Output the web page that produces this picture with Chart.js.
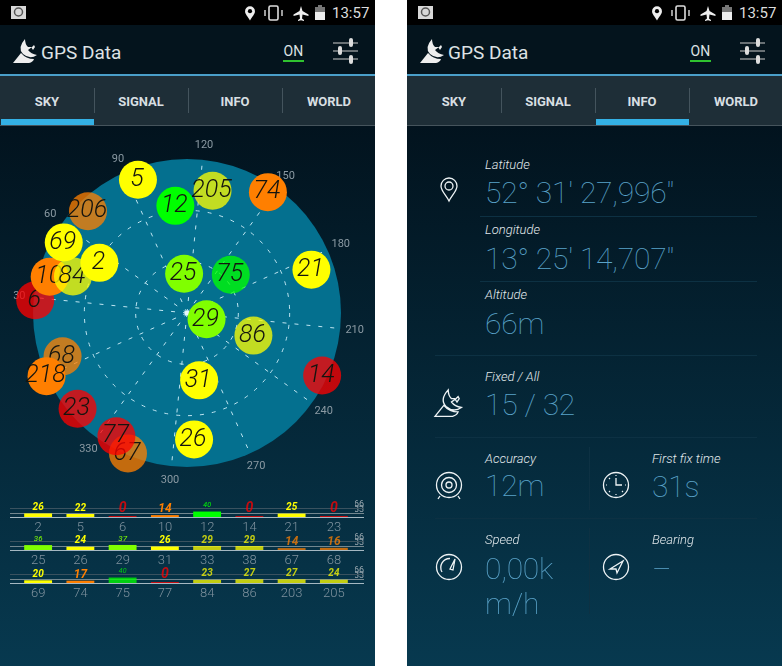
<!DOCTYPE html>
<html>
<head>
<meta charset="utf-8">
<style>
html, body { margin: 0; padding: 0; background: #fff; }
body { position: relative; width: 782px; height: 666px; overflow: hidden; font-family: Roboto, sans-serif; }
.phone { position: absolute; top: 0; width: 375px; height: 666px; overflow: hidden; background: linear-gradient(#02131e 126px, #07394f 666px); }
.abs { position: absolute; white-space: nowrap; line-height: 1; }
.status { position: absolute; left: 0; top: 0; width: 375px; height: 25px; background: #000; }
.appbar { position: absolute; left: 0; top: 25px; width: 375px; height: 49px; background: #04141d; border-bottom: 2px solid #4a9fc9; }
.tabs { position: absolute; left: 0; top: 76px; width: 375px; height: 49px; background: #1e2e37; border-bottom: 1px solid #46545c; }
.tab { position: absolute; top: 19px; width: 94px; text-align: center; font-weight: 700; font-size: 13px; line-height: 1; color: #d8dfe2; }
.sep { position: absolute; top: 12px; width: 1px; height: 25px; background: #44545d; }
.sel { position: absolute; top: 43px; height: 6px; background: #34b1e5; }
.lbl { font-style: italic; font-size: 13px; color: #e2e9ec; font-weight: 300; }
.val { font-size: 30px; font-weight: 100; color: #5aa3c9; letter-spacing: -0.2px; }
.rule { position: absolute; height: 1px; background: #0d3143; }
canvas { position: absolute; }
svg { position: absolute; overflow: visible; }
</style>
<script src="https://cdn.jsdelivr.net/npm/chart.js@4"></script>
</head>
<body>
<div class="phone" id="left" style="left:0"></div>
<div class="phone" id="right" style="left:407px"></div>
<script>
// Sky plot, drawn in this order
const skyIds =       [206, 5, 205, 12, 74, 21, 25, 75, 29, 86, 31, 26, 14, 6, 10, 84, 69, 2, 68, 218, 23, 67, 77];
const skyAzimuth =   [70, 94, 126, 108, 148, 185, 110, 163, 222, 223, 284, 291, 229, 29, 39, 42, 54, 54, 5, 0, 343, 317, 324];
const skyElevation = [7, 7, 17, 27, 5, 13, 67, 56, 78, 49, 50, 16, 3, 1, 7, 20, 7, 31, 13, 0, 5, 1, 7];
const skySnr =       [14, 22, 24, 40, 17, 25, 36, 40, 37, 27, 26, 24, 0, 0, 14, 23, 20, 26, 16, 15, 0, 14, 0];
const usedInFix = [2, 5, 10, 12, 21, 25, 26, 29, 31, 69, 74, 218];
const azimuthTicks = [30, 60, 90, 120, 150, 180, 210, 240, 270, 300, 330];
const spokeAngles = [0, 30, 60, 90, 120, 150, 180, 210, 240, 270, 300, 330];
const ringElevations = [30, 60];

// Signal rows
const rowIds1 = [2, 5, 6, 10, 12, 14, 21, 23];
const rowSnr1 = [26, 22, 0, 14, 40, 0, 25, 0];
const rowIds2 = [25, 26, 29, 31, 33, 38, 67, 68];
const rowSnr2 = [36, 24, 37, 26, 29, 29, 14, 16];
const rowIds3 = [69, 74, 75, 77, 84, 86, 203, 205];
const rowSnr3 = [20, 17, 40, 0, 23, 27, 27, 24];
const snrTicks = [0, 33, 66];

const tabNames = ['SKY', 'SIGNAL', 'INFO', 'WORLD'];

const NORTH_OFFSET = 114.2; // the plot is rotated by the compass
const PX_PER_DEG = 154 / 90;
const SKY_SIZE = 374;
const SKY_RANGE = SKY_SIZE / 2 / PX_PER_DEG;

// satellites outside the fix are see-through, that is what makes them look olive / brown
function snrColor(id, snr) {
    const alpha = usedInFix.includes(id) ? 1 : 0.76;
    let rgb = '0, 255, 0';
    if (snr === 0) rgb = '255, 0, 0';
    else if (snr < 20) rgb = '255, 127, 0';
    else if (snr < 30) rgb = '255, 255, 0';
    else if (snr < 40) rgb = '128, 255, 0';
    return `rgba(${rgb}, ${alpha})`;
}

function polar(az, zenith) {
    const a = (az - NORTH_OFFSET) * Math.PI / 180;
    return { x: zenith * Math.sin(a), y: zenith * Math.cos(a) };
}

// ---- shared phone chrome ----
const pinPath = 'M0 -11 a8 8 0 0 1 8 8 c0 5 -5 9 -8 15 c-3 -6 -8 -10 -8 -15 a8 8 0 0 1 8 -8 z';
const dishPath = 'M25 39 Q17 48 23 54 Q30 60 37 55 Q31 54 28 50 L32 47 L34 45 L35 47 L33 50 L31 47 L28 47 Q25 44 25 39 Z M21 53 L13 63 L29 63 Q33 62 34 59 Q26 59 21 53 Z';

function buildChrome(host, active) {
    let html = `
    <div class="status">
      <svg style="left:0;top:0" width="375" height="25">
        <rect x="11" y="6" width="15" height="13" fill="#d8d8d8"/><circle cx="18.5" cy="12" r="4" fill="none" stroke="#555" stroke-width="1.5"/>
        <g transform="translate(250,13) scale(.62)"><path d="${pinPath}" fill="#eee"/><circle cy="-3" r="3.4" fill="#000"/></g>
        <rect x="269" y="6" width="9" height="14" rx="1.5" fill="none" stroke="#ddd" stroke-width="1.6"/>
        <path d="M265 10v6M282 10v6" stroke="#ddd" stroke-width="1.4"/>
        <path d="M301 6 l1.5 5 l6 3.5 v1.5 l-6 -1.5 l-.5 4 l2 1.5 v1 l-3 -.7 l-3 .7 v-1 l2 -1.5 l-.5 -4 l-6 1.5 v-1.5 l6 -3.5 z" fill="#eee"/>
        <rect x="315" y="7" width="10" height="13" fill="#eee"/><rect x="315" y="7" width="10" height="5" fill="#777"/><rect x="318" y="5" width="4" height="2" fill="#777"/>
      </svg>
      <div class="abs" style="left:332px;top:6px;font-size:15px;color:#dcdcdc">13:57</div>
    </div>
    <div class="appbar"></div>
    <svg style="left:0;top:0" width="375" height="76">
      <path d="${dishPath}" fill="#eee"/>
      <path d="M333 43h25M333 51h25M333 59h25" stroke="#ccc" stroke-width="1.1"/>
      <rect x="349" y="38" width="4" height="9" rx="2" fill="#ddd"/><rect x="338" y="46" width="4" height="9" rx="2" fill="#ddd"/><rect x="349" y="55" width="4" height="9" rx="2" fill="#ddd"/>
      <rect x="283" y="60" width="21" height="2" fill="#2fc22f"/>
    </svg>
    <div class="abs" style="left:41px;top:42.5px;font-size:19px;color:#dde2e4">GPS Data</div>
    <div class="abs" style="left:283.5px;top:43.5px;font-size:14px;color:#dde2e4">ON</div>
    <div class="tabs">`;
    tabNames.forEach((t, i) => {
        html += `<div class="tab" style="left:${i * 94}px">${t}</div>`;
        if (i > 0) html += `<div class="sep" style="left:${i * 94}px"></div>`;
    });
    html += `<div class="sel" style="left:${active * 94 + 1}px;width:93px"></div></div>`;
    host.innerHTML = html;
}

buildChrome(document.getElementById('left'), 0);
buildChrome(document.getElementById('right'), 2);

// ---- info panel ----
const infoItems = [
    ['Latitude', "52° 31' 27,996''", 78, 165, 193],
    ['Longitude', "13° 25' 14,707''", 78, 230, 259],
    ['Altitude', '66m', 78, 295, 324],
    ['Fixed / All', '15 / 32', 78, 377, 405],
    ['Accuracy', '12m', 78, 459, 486],
    ['First fix time', '31s', 245, 459, 487],
    ['Speed', '0,00k', 78, 540, 569],
    ['Bearing', '–', 245, 540, 569],
    ['', 'm/h', 78, 0, 604]
];
const infoRules = [[73, 216, 277], [73, 281, 277], [28, 355, 322], [28, 437, 322], [28, 518, 322]];
const infoRight = document.getElementById('right');
let infoHtml = '';
infoItems.forEach(([label, value, x, ly, vy]) => {
    if (label) infoHtml += `<div class="abs lbl" style="left:${x}px;top:${ly - 7}px">${label}</div>`;
    infoHtml += `<div class="abs val" style="left:${x}px;top:${vy - 15}px">${value}</div>`;
});
infoRules.forEach(([x, y, w]) => {
    infoHtml += `<div class="rule" style="left:${x}px;top:${y}px;width:${w}px"></div>`;
});
infoHtml += `<div class="rule" style="left:182px;top:447px;width:1px;height:63px"></div>`;
infoHtml += `<div class="rule" style="left:182px;top:528px;width:1px;height:86px"></div>`;
infoHtml += `<svg style="left:0;top:0" width="375" height="666" fill="none" stroke="#eef3f5" stroke-width="1.3">
  <g transform="translate(42,189)"><path d="${pinPath}"/><circle cy="-3" r="4"/></g>
  <path transform="translate(13.7,347) scale(1.1)" d="${dishPath}" stroke-width="1.2"/>
  <g transform="translate(42,485)"><circle r="12.5"/><circle r="7.5"/><circle r="3"/><path d="M-9 11 l-2 3 M9 11 l2 3"/></g>
  <g transform="translate(209,485)"><circle r="12.5"/><path d="M0 -7 V0 H6"/><path d="M0 -10v1M0 10v-1M-10 0h1M10 0h-1M-7 -7l1 1M7 7l-1 -1M-7 7l1 -1" stroke-width="1.2"/></g>
  <g transform="translate(42,567)"><circle r="12.5"/><path d="M-7 5 A9 9 0 0 1 1 -8.5"/><path d="M1 2 L6 -8 L4 3 Z"/></g>
  <g transform="translate(209,567)"><circle r="12.5"/><path d="M-6 2 L7 -6 L1 6 L0 2 Z"/></g>
</svg>`;
infoRight.insertAdjacentHTML('beforeend', infoHtml);

// ---- sky plot ----
const leftPhone = document.getElementById('left');
function addCanvas(left, top, w, h) {
    const c = document.createElement('canvas');
    c.width = w;
    c.height = h;
    c.style.cssText = `left:${left}px;top:${top}px;width:${w}px;height:${h}px`;
    leftPhone.appendChild(c);
    return c;
}

const skyBackdrop = {
    id: 'skyBackdrop',
    beforeDatasetsDraw(chart) {
        const { ctx, scales } = chart;
        const cx = scales.x.getPixelForValue(0);
        const cy = scales.y.getPixelForValue(0);
        const unit = scales.x.getPixelForValue(1) - cx;
        ctx.save();
        ctx.beginPath();
        ctx.arc(cx, cy, 90 * unit, 0, Math.PI * 2);
        ctx.fillStyle = '#04708f';
        ctx.fill();

        ctx.strokeStyle = '#bfe6f2';
        ctx.lineWidth = 1;
        ctx.setLineDash([4, 8]);
        ringElevations.forEach(el => {
            ctx.beginPath();
            ctx.arc(cx, cy, (90 - el) * unit, 0, Math.PI * 2);
            ctx.stroke();
        });
        spokeAngles.forEach(az => {
            const p = polar(az, 90);
            ctx.beginPath();
            ctx.moveTo(cx, cy);
            ctx.lineTo(scales.x.getPixelForValue(p.x), scales.y.getPixelForValue(p.y));
            ctx.stroke();
        });
        ctx.setLineDash([]);
        ctx.fillStyle = '#e8f6fa';
        ctx.beginPath();
        ctx.arc(cx, cy, 2.5, 0, Math.PI * 2);
        ctx.fill();

        ctx.fillStyle = '#8b9aa3';
        ctx.font = '11px Roboto';
        ctx.textAlign = 'center';
        ctx.textBaseline = 'middle';
        azimuthTicks.forEach(az => {
            const p = polar(az, 98.5);
            ctx.fillText(String(az), scales.x.getPixelForValue(p.x), scales.y.getPixelForValue(p.y));
        });
        ctx.restore();
    },
    // number goes right after its own circle so later circles can cover it
    afterDatasetDraw(chart, args) {
        const { ctx } = chart;
        const pt = args.meta.data[0];
        ctx.save();
        ctx.fillStyle = '#14140f';
        ctx.font = 'italic 300 25px Roboto';
        ctx.textAlign = 'center';
        ctx.textBaseline = 'middle';
        ctx.fillText(String(skyIds[args.index]), pt.x - 1, pt.y);
        ctx.restore();
    }
};

new Chart(addCanvas(0, 126, SKY_SIZE, SKY_SIZE), {
    type: 'scatter',
    data: {
        datasets: skyIds.map((id, i) => ({
            data: [polar(skyAzimuth[i], 90 - skyElevation[i])],
            backgroundColor: snrColor(id, skySnr[i]),
            borderWidth: 0,
            pointRadius: 19,
            pointHoverRadius: 19,
            order: -i,
            clip: false
        }))
    },
    options: {
        responsive: false,
        animation: false,
        layout: { padding: 0, autoPadding: false },
        plugins: { legend: { display: false }, tooltip: { enabled: false } },
        events: [],
        scales: {
            x: { display: false, min: -SKY_RANGE, max: SKY_RANGE },
            y: { display: false, min: -SKY_RANGE, max: SKY_RANGE }
        }
    },
    plugins: [skyBackdrop]
});

// ---- signal rows ----
function snrFontSize(v) {
    if (v < 14) return 14;
    if (v < 20) return 12;
    if (v < 30) return 10;
    if (v < 40) return 8;
    return 7;
}

const rowDecor = {
    id: 'rowDecor',
    beforeDatasetsDraw(chart) {
        const { ctx, scales } = chart;
        ctx.save();
        snrTicks.forEach(t => {
            const y = Math.round(scales.y.getPixelForValue(t)) + 0.5;
            ctx.strokeStyle = t === 0 ? '#a5b8c2' : (t === 33 ? '#73878f' : '#3a525f');
            ctx.lineWidth = 1;
            ctx.beginPath();
            ctx.moveTo(10, y);
            ctx.lineTo(364, y);
            ctx.stroke();
        });
        ctx.restore();
    },
    afterDatasetsDraw(chart) {
        const { ctx } = chart;
        const ds = chart.data.datasets[0];
        const bars = chart.getDatasetMeta(0).data;
        ctx.save();
        ctx.textAlign = 'center';
        ctx.textBaseline = 'middle';
        ds.data.forEach((v, i) => {
            ctx.font = `italic ${v < 30 ? 700 : 400} ${snrFontSize(v)}px Roboto`;
            ctx.fillStyle = ds.backgroundColor[i];
            ctx.fillText(String(v), bars[i].x, bars[i].y - (v === 0 ? 8 : 6));
        });
        ctx.restore();
    }
};

function signalRow(top, ids, snr) {
    return new Chart(addCanvas(0, top, 375, 37), {
        type: 'bar',
        data: {
            labels: ids,
            datasets: [{
                data: snr,
                backgroundColor: snr.map((v, i) => snrColor(ids[i], v)),
                categoryPercentage: 1,
                barPercentage: 0.66,
                minBarLength: 1,
                borderWidth: 0
            }]
        },
        options: {
            responsive: false,
            animation: false,
            events: [],
            layout: { padding: { left: 17, top: 11, right: 0, bottom: 0 }, autoPadding: false },
            plugins: { legend: { display: false }, tooltip: { enabled: false } },
            scales: {
                x: {
                    grid: { display: false, drawTicks: false },
                    border: { display: false },
                    afterFit: s => { s.height = 17; },
                    ticks: { color: '#7f929e', font: { size: 13, family: 'Roboto', weight: '300' }, padding: 3, maxRotation: 0, autoSkip: false }
                },
                y: {
                    position: 'right',
                    min: 0,
                    max: 66,
                    afterBuildTicks: s => { s.ticks = [{ value: 33 }, { value: 66 }]; },
                    grid: { display: false, drawTicks: false },
                    border: { display: false },
                    afterFit: s => { s.width = 20; },
                    ticks: { color: '#9aa8b0', font: { size: 9, family: 'Roboto' }, padding: -1, labelOffset: -3, autoSkip: false }
                }
            }
        },
        plugins: [rowDecor]
    });
}

signalRow(497, rowIds1, rowSnr1);
signalRow(530, rowIds2, rowSnr2);
signalRow(563, rowIds3, rowSnr3);
</script>
</body>
</html>
